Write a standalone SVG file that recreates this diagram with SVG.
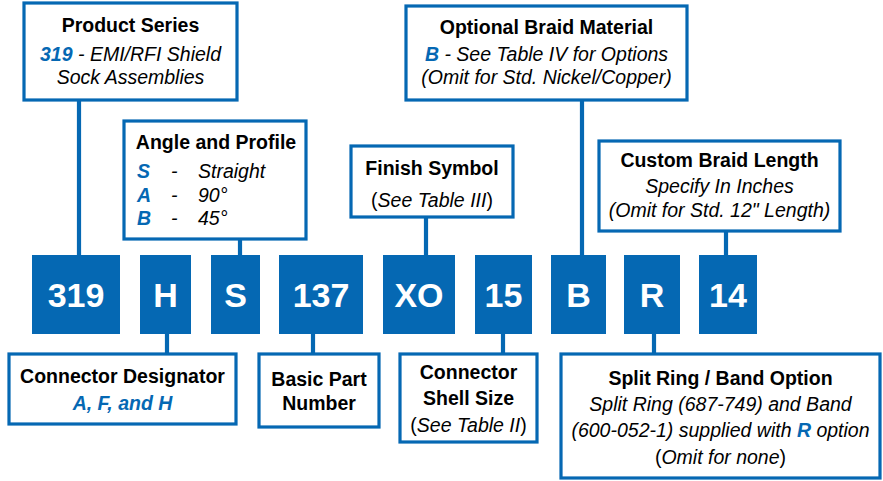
<svg xmlns="http://www.w3.org/2000/svg" width="883" height="481" viewBox="0 0 883 481">
<style>
.box{fill:#fff;stroke:#0568B3;stroke-width:3.2}
.code{fill:#0568B3}
.ct{font-family:"Liberation Sans",Arial,sans-serif;font-weight:bold;font-size:34px;fill:#fff;text-anchor:middle}
.t{font-family:"Liberation Sans",Arial,sans-serif;font-size:19.5px;fill:#000;text-anchor:middle}
.tl{font-family:"Liberation Sans",Arial,sans-serif;font-size:19.5px;fill:#000}
.b{font-weight:bold}
.i{font-style:italic}
.bl{fill:#0568B3;font-weight:bold;font-style:italic}
.con line{stroke:#0568B3;stroke-width:4.2}
</style>
<rect width="883" height="481" fill="#fff"/>
<g class="con">
<line x1="79" y1="100" x2="79" y2="256"/>
<line x1="240" y1="239" x2="240" y2="256"/>
<line x1="426" y1="217" x2="426" y2="256"/>
<line x1="582" y1="100" x2="582" y2="256"/>
<line x1="726" y1="231" x2="726" y2="256"/>
<line x1="167" y1="333" x2="167" y2="354"/>
<line x1="313" y1="333" x2="313" y2="354"/>
<line x1="503" y1="333" x2="503" y2="354"/>
<line x1="654" y1="333" x2="654" y2="354"/>
</g>
<g id="code-319"><rect class="code" x="32" y="255" width="88" height="79"/><text class="ct" x="76" y="307">319</text></g>
<g id="code-H"><rect class="code" x="140" y="255" width="51" height="79"/><text class="ct" x="165.5" y="307">H</text></g>
<g id="code-S"><rect class="code" x="211" y="255" width="49" height="79"/><text class="ct" x="235.5" y="307">S</text></g>
<g id="code-137"><rect class="code" x="279" y="255" width="84" height="79"/><text class="ct" x="321" y="307">137</text></g>
<g id="code-XO"><rect class="code" x="383" y="255" width="72" height="79"/><text class="ct" x="419" y="307">XO</text></g>
<g id="code-15"><rect class="code" x="475" y="255" width="57" height="79"/><text class="ct" x="503.5" y="307">15</text></g>
<g id="code-B"><rect class="code" x="551" y="255" width="55" height="79"/><text class="ct" x="578.5" y="307">B</text></g>
<g id="code-R"><rect class="code" x="624" y="255" width="56" height="79"/><text class="ct" x="652" y="307">R</text></g>
<g id="code-14"><rect class="code" x="699" y="255" width="58" height="79"/><text class="ct" x="728" y="307">14</text></g>

<g id="product-series">
<rect class="box" x="24" y="3" width="213" height="97"/>
<text class="t b" x="130.5" y="32">Product Series</text>
<text class="t" x="130.5" y="61"><tspan class="bl">319</tspan><tspan class="i"> - EMI/RFI Shield</tspan></text>
<text class="t i" x="130.5" y="84">Sock Assemblies</text>
</g>
<g id="angle-profile">
<rect class="box" x="124" y="121" width="182" height="118"/>
<text class="t b" x="216" y="149">Angle and Profile</text>
<text class="tl bl" x="137" y="178">S</text><text class="tl i" x="171" y="178">-</text><text class="tl i" x="198" y="178">Straight</text>
<text class="tl bl" x="137" y="202">A</text><text class="tl i" x="171" y="202">-</text><text class="tl i" x="198" y="202">90°</text>
<text class="tl bl" x="137" y="225">B</text><text class="tl i" x="171" y="225">-</text><text class="tl i" x="198" y="225">45°</text>
</g>
<g id="finish-symbol">
<rect class="box" x="351" y="146" width="162" height="71"/>
<text class="t b" x="432" y="175">Finish Symbol</text>
<text class="t" x="432" y="207">(<tspan class="i">See Table III</tspan>)</text>
</g>
<g id="optional-braid">
<rect class="box" x="406" y="6" width="281" height="94"/>
<text class="t b" x="546.5" y="34">Optional Braid Material</text>
<text class="t" x="546.5" y="61"><tspan class="bl">B</tspan><tspan class="i"> - See Table IV for Options</tspan></text>
<text class="t i" x="546.5" y="84">(Omit for Std. Nickel/Copper)</text>
</g>
<g id="custom-braid">
<rect class="box" x="599" y="141" width="241" height="90"/>
<text class="t b" x="719.5" y="167">Custom Braid Length</text>
<text class="t i" x="719.5" y="193">Specify In Inches</text>
<text class="t i" x="719.5" y="217">(Omit for Std. 12" Length)</text>
</g>
<g id="connector-designator">
<rect class="box" x="9" y="354" width="227" height="70"/>
<text class="t b" x="122.5" y="383">Connector Designator</text>
<text class="t bl" x="122.5" y="410">A, F, and H</text>
</g>
<g id="basic-part">
<rect class="box" x="259" y="354" width="120" height="73"/>
<text class="t b" x="319" y="386">Basic Part</text>
<text class="t b" x="319" y="410">Number</text>
</g>
<g id="shell-size">
<rect class="box" x="400" y="354" width="137" height="88"/>
<text class="t b" x="468.5" y="379">Connector</text>
<text class="t b" x="468.5" y="405">Shell Size</text>
<text class="t" x="468.5" y="432">(<tspan class="i">See Table II</tspan>)</text>
</g>
<g id="split-ring">
<rect class="box" x="561" y="354" width="319" height="124"/>
<text class="t b" x="720.5" y="385">Split Ring / Band Option</text>
<text class="t i" x="720.5" y="411">Split Ring (687-749) and Band</text>
<text class="t" x="720.5" y="437"><tspan class="i">(600-052-1) supplied with </tspan><tspan class="bl">R</tspan><tspan class="i"> option</tspan></text>
<text class="t" x="720.5" y="464">(<tspan class="i">Omit for none</tspan>)</text>
</g>
</svg>
